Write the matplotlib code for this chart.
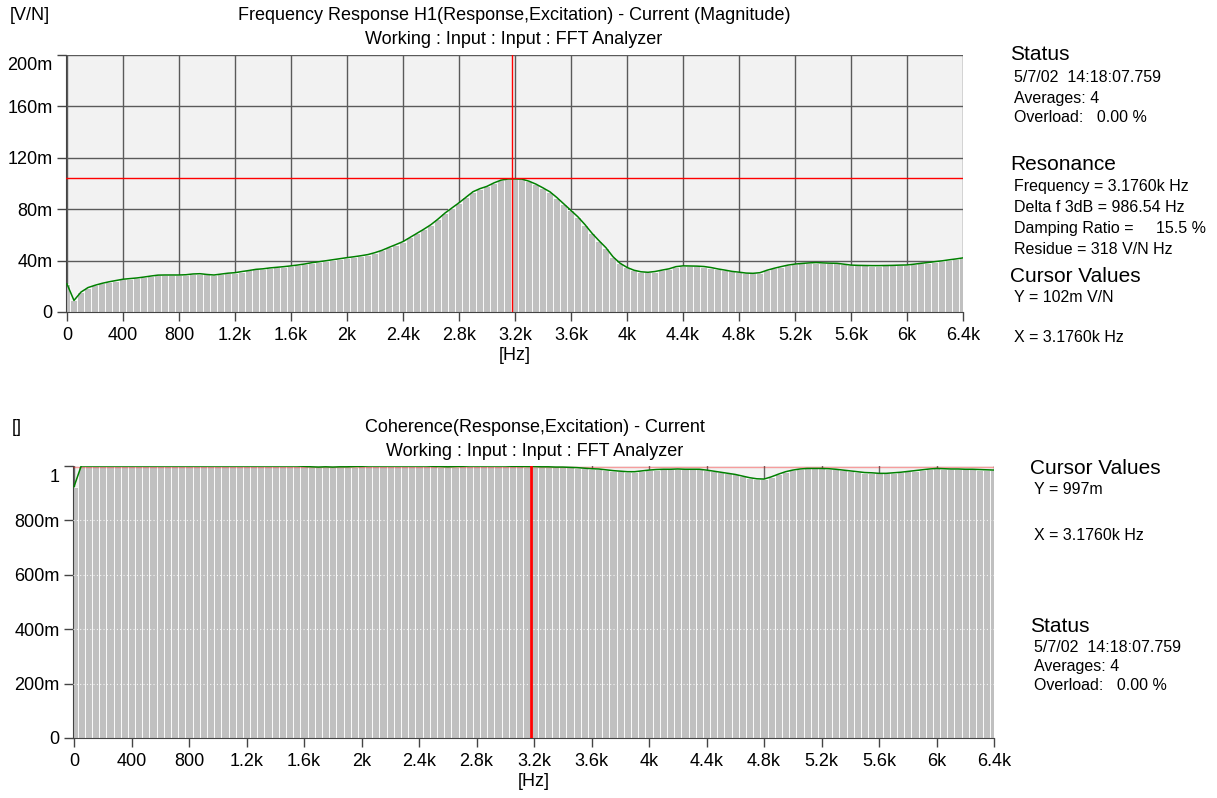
import numpy as np
import matplotlib
matplotlib.use("Agg")
import matplotlib.pyplot as plt
from matplotlib.transforms import ScaledTranslation

plt.rcParams['font.family'] = ['Liberation Sans', 'DejaVu Sans']

# frequency lines, 50 Hz step
freq = np.arange(0, 6401, 50)

# H1 magnitude [mV/N]
h1_mag = [
    21.8, 9.0, 15.5, 19.0, 20.8, 22.3, 23.5, 24.5, 25.5, 26.0, 26.5, 27.2, 28.0, 28.7, 28.8, 28.8,
    28.8, 29.0, 29.6, 29.8, 29.2, 28.8, 29.5, 30.2, 30.6, 31.5, 32.3, 33.2, 33.6, 34.3, 34.8, 35.3,
    35.9, 36.6, 37.4, 38.4, 39.1, 39.9, 40.7, 41.5, 42.3, 43.0, 43.8, 44.7, 46.2, 48.0, 50.3, 52.5,
    54.8, 58.0, 61.2, 64.5, 68.0, 72.3, 77.0, 81.0, 85.0, 89.3, 93.6, 96.0, 97.8, 100.5, 102.6, 103.5,
    103.5, 103.4, 101.8, 99.5, 96.6, 93.5, 89.0, 84.0, 79.0, 74.0, 68.0, 61.3, 55.5, 50.0, 43.0, 38.0,
    34.7, 32.5, 31.3, 30.9, 31.5, 32.6, 33.6, 35.3, 35.9, 35.8, 35.7, 35.4, 34.6, 33.5, 32.6, 31.6,
    31.0, 30.3, 30.1, 30.6, 32.5, 34.0, 35.3, 36.5, 37.3, 37.8, 38.2, 38.5, 38.2, 38.0, 37.9, 37.2,
    36.5, 36.3, 36.2, 36.1, 36.1, 36.2, 36.3, 36.5, 36.6, 37.2, 37.9, 38.5, 39.2, 39.8, 40.6, 41.3,
    42.1,
]

# coherence
coh = [
    0.924, 1.0, 1.0, 1.0, 1.0, 1.0, 1.0, 1.0, 1.0, 1.0, 1.0, 1.0, 1.0, 1.0, 1.0, 1.0,
    1.0, 1.0, 1.0, 1.0, 1.0, 1.0, 1.0, 1.0, 1.0, 1.0, 1.0, 1.0, 1.0, 1.0, 1.0, 1.0,
    0.999, 0.997, 0.996, 0.997, 0.996, 0.997, 0.997, 0.998, 0.999, 1.0, 1.0, 1.0, 1.0, 1.0, 1.0, 1.0,
    1.0, 1.0, 0.999, 0.998, 0.997, 0.998, 0.999, 1.0, 1.0, 1.0, 1.0, 1.0, 1.0, 0.999, 0.999, 0.998,
    0.998, 0.997, 0.997, 0.996, 0.996, 0.995, 0.994, 0.992, 0.990, 0.989, 0.986, 0.983, 0.981, 0.979, 0.979, 0.982,
    0.985, 0.987, 0.988, 0.988, 0.989, 0.988, 0.988, 0.988, 0.985, 0.981, 0.977, 0.973, 0.969, 0.963, 0.957, 0.953,
    0.952, 0.960, 0.970, 0.979, 0.985, 0.989, 0.991, 0.991, 0.991, 0.990, 0.988, 0.985, 0.982, 0.979, 0.976, 0.975,
    0.973, 0.973, 0.975, 0.977, 0.980, 0.983, 0.986, 0.989, 0.991, 0.990, 0.989, 0.989, 0.988, 0.988, 0.987, 0.986,
    0.985,
]

xticks = [0, 400, 800, 1200, 1600, 2000, 2400, 2800, 3200, 3600, 4000, 4400, 4800, 5200, 5600, 6000, 6400]
xlabels = ['0', '400', '800', '1.2k', '1.6k', '2k', '2.4k', '2.8k', '3.2k', '3.6k', '4k',
           '4.4k', '4.8k', '5.2k', '5.6k', '6k', '6.4k']
top_yticks = [0, 40, 80, 120, 160, 200]
top_ylabels = ['0', '40m', '80m', '120m', '160m', '200m']
bot_yticks = [0, 0.2, 0.4, 0.6, 0.8, 1.0]
bot_ylabels = ['0', '200m', '400m', '600m', '800m', '1']

cursor_f = 3176
cursor_top = 104
cursor_bot = 0.997

W, H = 1217, 798
fig = plt.figure(figsize=(W / 100, H / 100), dpi=100)


def txt(x, y, s, size=13, ha='left'):
    fig.text(x / W, 1 - y / H, s, fontsize=size, ha=ha, va='center')


def style_axis(ax):
    ax.set_facecolor('#f2f2f2')
    for s in ['top', 'right']:
        ax.spines[s].set_visible(False)
    for s in ['left', 'bottom']:
        ax.spines[s].set_color('#444444')
    ax.tick_params(direction='out', length=6.5, width=1, color='#444444',
                   labelsize=13, pad=3)
    ax.tick_params(axis='x', pad=4)
    ax.set_xticks(xticks, xlabels)
    ax.set_xlim(-7, 6400)


# ---- top: frequency response ----
ax1 = fig.add_axes([66 / W, 1 - 312 / H, (963 - 66) / W, (312 - 55) / H])
style_axis(ax1)
ax1.set_ylim(0, 200)
ax1.set_yticks(top_yticks, top_ylabels)
ax1.grid(True, color='#5a5a5a', lw=1)
ax1.set_axisbelow(True)
ax1.bar(freq, h1_mag, width=50, color='#c0c0c0', edgecolor='white', lw=0.6, zorder=2)
ax1.plot(freq, h1_mag, color='#008000', lw=1.1, zorder=3)
ax1.axvline(cursor_f, color='red', lw=1, zorder=4)
ax1.axhline(cursor_top, color='red', lw=1, zorder=4)
lab = ax1.get_yticklabels()[-1]
lab.set_transform(lab.get_transform() + ScaledTranslation(0, -8 / 100, fig.dpi_scale_trans))

txt(10, 15, '[V/N]')
txt(514, 16, 'Frequency Response H1(Response,Excitation) - Current (Magnitude)', ha='center')
txt(514, 39, 'Working : Input : Input : FFT Analyzer', ha='center')
txt(515, 355, '[Hz]', ha='center')

# ---- bottom: coherence ----
ax2 = fig.add_axes([73 / W, 1 - 738 / H, (994 - 73) / W, (738 - 466) / H])
style_axis(ax2)
ax2.set_ylim(0, 1.0)
ax2.set_yticks(bot_yticks, bot_ylabels)
ax2.grid(True, axis='x', color='#666666', lw=1)
ax2.set_axisbelow(True)
ax2.bar(freq, coh, width=50, color='#c0c0c0', edgecolor='white', lw=0.6, zorder=2)
for yv in bot_yticks[1:-1]:
    ax2.axhline(yv, color='#f4f4f4', lw=0.8, ls=(0, (1, 2)), zorder=3)
ax2.axhline(cursor_bot, color='red', lw=1, alpha=0.35, zorder=3)
ax2.plot(freq, coh, color='#008000', lw=1.1, zorder=4)
ax2.axvline(cursor_f, color='red', lw=2, zorder=5)
lab = ax2.get_yticklabels()[-1]
lab.set_transform(lab.get_transform() + ScaledTranslation(0, -10 / 100, fig.dpi_scale_trans))

txt(12, 427, '[]')
txt(535, 427, 'Coherence(Response,Excitation) - Current', ha='center')
txt(535, 451, 'Working : Input : Input : FFT Analyzer', ha='center')
txt(534, 782, '[Hz]', ha='center')

# ---- side panels ----
txt(1010, 55, 'Status', 15)
txt(1014, 77, '5/7/02  14:18:07.759', 11.5)
txt(1014, 98, 'Averages: 4', 11.5)
txt(1014, 117, 'Overload:   0.00 %', 11.5)
txt(1010, 165, 'Resonance', 15)
txt(1014, 187, 'Frequency = 3.1760k Hz', 11.5)
txt(1014, 208, 'Delta f 3dB = 986.54 Hz', 11.5)
txt(1014, 229, 'Damping Ratio =     15.5 %', 11.5)
txt(1014, 249, 'Residue = 318 V/N Hz', 11.5)
txt(1010, 276, 'Cursor Values', 15)
txt(1014, 298, 'Y = 102m V/N', 11.5)
txt(1014, 338, 'X = 3.1760k Hz', 11.5)

txt(1030, 468, 'Cursor Values', 15)
txt(1034, 490, 'Y = 997m', 11.5)
txt(1034, 535, 'X = 3.1760k Hz', 11.5)
txt(1030, 626, 'Status', 15)
txt(1034, 648, '5/7/02  14:18:07.759', 11.5)
txt(1034, 667, 'Averages: 4', 11.5)
txt(1034, 686, 'Overload:   0.00 %', 11.5)

fig.savefig('out.png', dpi=100)
